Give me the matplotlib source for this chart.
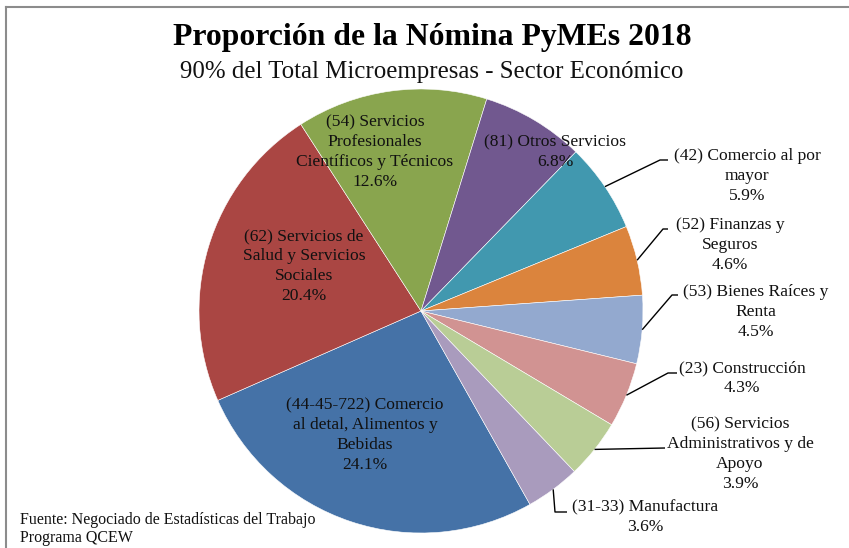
import numpy as np
import matplotlib
matplotlib.use("Agg")
import matplotlib.pyplot as plt
from matplotlib.lines import Line2D

plt.rcParams['font.family'] = ['Liberation Serif', 'DejaVu Serif']

# ---- data ----
categories = [
    "(44-45-722) Comercio\nal detal, Alimentos y\nBebidas",
    "(62) Servicios de\nSalud y Servicios\nSociales",
    "(54) Servicios\nProfesionales\nCientíficos y Técnicos",
    "(81) Otros Servicios",
    "(42) Comercio al por\nmayor",
    "(52) Finanzas y\nSeguros",
    "(53) Bienes Raíces y\nRenta",
    "(23) Construcción",
    "(56) Servicios\nAdministrativos y de\nApoyo",
    "(31-33) Manufactura",
]
values = [24.1, 20.4, 12.6, 6.8, 5.9, 4.6, 4.5, 4.3, 3.9, 3.6]
colors = ["#4572A7", "#AA4643", "#89A54E", "#71588F", "#4198AF",
          "#DB843D", "#93A9CF", "#D19392", "#B9CD96", "#A99BBD"]

title = "Proporción de la Nómina PyMEs 2018"
subtitle = "90% del Total Microempresas - Sector Económico"
source = "Fuente: Negociado de Estadísticas del Trabajo\nPrograma QCEW"

W, H = 849, 548
fig = plt.figure(figsize=(W / 100, H / 100), dpi=100)
ax = fig.add_axes([0, 0, 1, 1])

def Y(y):
    return H - y

cx, cy, R = 421, Y(311), 222
start = -60.6
wedges, _ = ax.pie(values, colors=colors, startangle=start, counterclock=False,
                   center=(cx, cy), radius=R,
                   wedgeprops=dict(edgecolor="white", linewidth=0.4))
ax.set_xlim(0, W)
ax.set_ylim(0, H)
ax.set_aspect('auto')
ax.axis('off')

fs = 12.6
# label layout: (x, y) text center in pixels; leader: None or list of elbow points
layout = [
    ((365, 435), None),
    ((304, 266), None),
    ((375, 152), None),
    ((555, 152), None),
    ((747, 176), [(660, 160), (668, 160)]),
    ((730, 245), [(663, 229), (668, 229)]),
    ((756, 312), [(672, 295), (678, 295)]),
    ((742, 378), [(668, 373), (677, 373)]),
    ((740, 454), [(665, 448)]),
    ((645, 517), [(555, 512), (567, 512)]),
]

for w, cat, v, (pos, lead) in zip(wedges, categories, values, layout):
    txt = f"{cat}\n{v:.1f}%"
    ax.text(pos[0], Y(pos[1]), txt, ha='center', va='center', fontsize=fs,
            color='#111111', linespacing=1.32)
    if lead is not None:
        mid = np.deg2rad((w.theta1 + w.theta2) / 2)
        px, py = cx + R * np.cos(mid), cy + R * np.sin(mid)
        xs = [px] + [p[0] for p in lead]
        ys = [py] + [Y(p[1]) for p in lead]
        ax.plot(xs, ys, color='black', lw=1.0, solid_capstyle='butt')

fig.text(432 / W, 1 - 38 / H, title, ha='center', va='center',
         fontsize=22.9, fontweight='bold', color='black')
fig.text(432 / W, 1 - 72 / H, subtitle, ha='center', va='center',
         fontsize=17.9, color='#111111')
fig.text(20 / W, 1 - 529 / H, source, ha='left', va='center',
         fontsize=11.5, color='#111111', linespacing=1.15)

# chart area border (top and left visible)
fig.add_artist(Line2D([6 / W, 1], [1 - 7 / H, 1 - 7 / H], color='#8c8c8c', lw=1.5,
                      transform=fig.transFigure))
fig.add_artist(Line2D([6 / W, 6 / W], [0, 1 - 7 / H], color='#8c8c8c', lw=1.5,
                      transform=fig.transFigure))

fig.savefig("out.png", dpi=100)
